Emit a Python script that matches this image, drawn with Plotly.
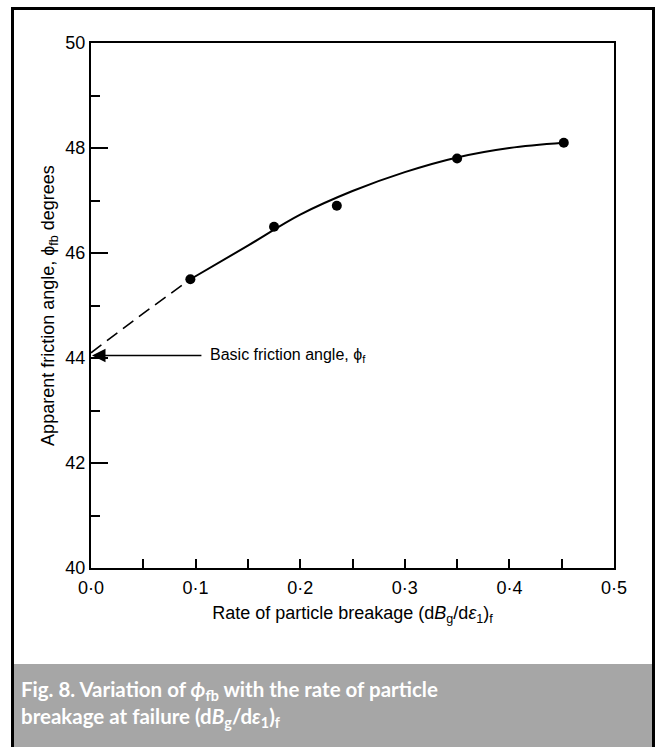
import plotly.graph_objects as go

# Measured points: rate of particle breakage vs apparent friction angle
breakage_rate = [0.095, 0.175, 0.235, 0.35, 0.452]
friction_angle = [45.5, 46.5, 46.9, 47.8, 48.1]

# Trend curve through the data (solid part) and its extrapolation to zero (dashed)
curve_x = [0.095, 0.15, 0.2, 0.25, 0.3, 0.35, 0.4, 0.452]
curve_y = [45.5, 46.14, 46.73, 47.18, 47.54, 47.82, 48.0, 48.1]
extrap_x = [0.0, 0.05, 0.095]
extrap_y = [44.1, 44.85, 45.5]

basic_friction_angle = 44.05

x_ticks = [0.0, 0.1, 0.2, 0.3, 0.4, 0.5]
x_tick_text = ["0·0", "0·1", "0·2", "0·3", "0·4", "0·5"]
y_ticks = [40, 42, 44, 46, 48, 50]
y_tick_text = ["40", "42", "44", "46", "48", "50"]

W, H = 659, 747
L, R, T, B = 91, 614, 43, 568  # plot-area pixel bounds


def px(xp):
    return (xp - L) / (R - L)


def py(yp):
    return (B - yp) / (B - T)


fig = go.Figure()

fig.add_trace(go.Scatter(
    x=extrap_x, y=extrap_y, mode="lines",
    line=dict(color="black", width=1.6, dash="13px,7px"),
    hoverinfo="skip", showlegend=False,
))
fig.add_trace(go.Scatter(
    x=curve_x, y=curve_y, mode="lines", line_shape="spline",
    line=dict(color="black", width=2),
    hoverinfo="skip", showlegend=False,
))
fig.add_trace(go.Scatter(
    x=breakage_rate, y=friction_angle, mode="markers",
    marker=dict(color="black", size=10),
    showlegend=False,
))

font = dict(family="Liberation Sans, Arial, sans-serif", size=17, color="black")

fig.update_layout(
    width=W, height=H,
    margin=dict(l=L, r=W - R, t=T, b=H - B),
    paper_bgcolor="white", plot_bgcolor="white",
    font=font,
    xaxis=dict(
        range=[0, 0.5], showgrid=False, zeroline=False,
        showline=True, linecolor="black", linewidth=2, mirror=True,
        ticks="inside", ticklen=9, tickwidth=1.5, tickcolor="black",
        tickvals=x_ticks, ticktext=x_tick_text, tickfont=dict(size=18),
        ticklabelstandoff=2,
        minor=dict(dtick=0.05, ticks="inside", ticklen=9, tickwidth=1.5, tickcolor="black"),
        title=dict(text="Rate of particle breakage (d<i>B</i><sub>g</sub>/d<i>ε</i><sub>1</sub>)<sub>f</sub>",
                   font=dict(size=18), standoff=10),
    ),
    yaxis=dict(
        range=[40, 50], showgrid=False, zeroline=False,
        showline=True, linecolor="black", linewidth=2, mirror=True,
        ticks="inside", ticklen=17, tickwidth=1.5, tickcolor="black",
        tickvals=y_ticks, ticktext=y_tick_text, tickfont=dict(size=18),
        minor=dict(dtick=1, ticks="inside", ticklen=9, tickwidth=1.5, tickcolor="black"),
        title=dict(text="Apparent friction angle, ϕ<sub>fb</sub> degrees",
                   font=dict(size=18), standoff=6),
    ),
)

# Arrow marking the basic friction angle on the vertical axis
fig.add_annotation(
    x=0.0, y=basic_friction_angle, ax=0.107, ay=basic_friction_angle,
    xref="x", yref="y", axref="x", ayref="y",
    text="", showarrow=True, arrowhead=2, arrowsize=1.8, arrowwidth=1.5,
    arrowcolor="black", standoff=1,
)
fig.add_annotation(
    x=0.112, y=basic_friction_angle, xref="x", yref="y",
    xanchor="left", yanchor="middle", showarrow=False,
    text="Basic friction angle, ϕ<sub>f</sub>", font=dict(size=16),
)

# Outer frame and caption band
fig.add_shape(type="rect", xref="paper", yref="paper",
              x0=px(13.5), x1=px(652.5), y0=py(664), y1=py(760),
              fillcolor="#a6a6a6", line=dict(width=0), layer="below")
fig.add_shape(type="rect", xref="paper", yref="paper",
              x0=px(12.5), x1=px(653.5), y0=py(8.5), y1=py(770),
              line=dict(color="black", width=3), fillcolor="rgba(0,0,0,0)")

fig.add_annotation(
    x=px(19), y=py(704), xref="paper", yref="paper",
    xanchor="left", yanchor="middle", align="left", showarrow=False,
    text=("<b>Fig. 8. Variation of <i>ϕ</i><sub>fb</sub> with the rate of particle<br>"
          "breakage at failure (d<i>B</i><sub>g</sub>/d<i>ε</i><sub>1</sub>)<sub>f</sub></b>"),
    font=dict(family="Lato, Open Sans, sans-serif", size=20.5, color="white"),
)

fig.write_html("out.html")
